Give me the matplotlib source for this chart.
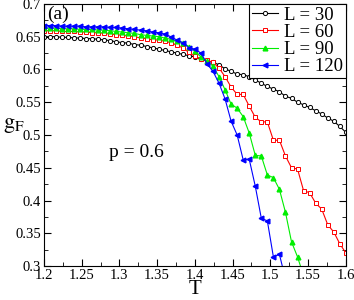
import numpy as np
import matplotlib
matplotlib.use("Agg")
import matplotlib.pyplot as plt
from matplotlib.ticker import MultipleLocator

plt.rcParams['font.family'] = ['Liberation Serif', 'DejaVu Serif']
plt.rcParams['mathtext.fontset'] = 'stix'

# temperature grid shared by all curves (step 0.008)
T = np.round(np.arange(51) * 0.008 + 1.2, 3)

g_L30 = [0.650, 0.650, 0.650, 0.649, 0.649, 0.648, 0.648, 0.647, 0.647, 0.646,
         0.645, 0.644, 0.642, 0.641, 0.640, 0.638, 0.637, 0.635, 0.633, 0.631,
         0.629, 0.627, 0.625, 0.623, 0.621, 0.619, 0.616, 0.613, 0.611, 0.607,
         0.601, 0.597, 0.593, 0.592, 0.589, 0.584, 0.579, 0.574, 0.570, 0.566,
         0.559, 0.556, 0.550, 0.546, 0.542, 0.537, 0.532, 0.526, 0.521, 0.513,
         0.504]
g_L60 = [0.659, 0.659, 0.659, 0.658, 0.658, 0.658, 0.657, 0.657, 0.656, 0.656,
         0.655, 0.654, 0.653, 0.652, 0.651, 0.650, 0.648, 0.647, 0.645, 0.645,
         0.643, 0.641, 0.637, 0.633, 0.626, 0.620, 0.616, 0.614, 0.611, 0.602,
         0.589, 0.573, 0.562, 0.562, 0.544, 0.527, 0.520, 0.520, 0.492, 0.492,
         0.468, 0.450, 0.448, 0.415, 0.412, 0.396, 0.387, 0.363, 0.352, 0.334,
         0.320]
g_L90 = [0.663, 0.663, 0.663, 0.662, 0.662, 0.662, 0.661, 0.661, 0.661, 0.660,
         0.660, 0.659, 0.658, 0.657, 0.656, 0.655, 0.653, 0.652, 0.651, 0.650,
         0.648, 0.646, 0.643, 0.641, 0.635, 0.628, 0.619, 0.613, 0.605, 0.589,
         0.569, 0.547, 0.541, 0.528, 0.503, 0.469, 0.468, 0.439, 0.435, 0.417,
         0.382, 0.337, 0.314, 0.285]
g_L120 = [0.667, 0.667, 0.667, 0.666, 0.666, 0.666, 0.666, 0.665, 0.665, 0.665,
          0.665, 0.664, 0.664, 0.663, 0.662, 0.661, 0.660, 0.659, 0.657, 0.656,
          0.654, 0.650, 0.645, 0.641, 0.633, 0.631, 0.625, 0.609, 0.597, 0.579,
          0.555, 0.521, 0.500, 0.462, 0.463, 0.422, 0.373, 0.369, 0.314, 0.318,
          0.280]

fig = plt.figure(figsize=(3.54, 3.0), dpi=100)
ax = fig.add_axes([0.124, 0.113, 0.853, 0.874])

ax.plot(T[:len(g_L30)], g_L30, '-o', color='black', lw=0.8, ms=3.0,
        mfc='white', mew=0.7, label='L = 30')
ax.plot(T[:len(g_L60)], g_L60, '-s', color='red', lw=0.8, ms=2.8,
        mfc='white', mew=0.7, label='L = 60')
ax.plot(T[:len(g_L90)], g_L90, '-^', color='#00ee00', lw=0.8, ms=3.4,
        label='L = 90')
ax.plot(T[:len(g_L120)], g_L120, '-<', color='blue', lw=0.8, ms=3.4,
        label='L = 120')

ax.set_xlim(1.2, 1.6)
ax.set_ylim(0.3, 0.7)
ax.xaxis.set_major_locator(MultipleLocator(0.05))
ax.xaxis.set_minor_locator(MultipleLocator(0.025))
ax.yaxis.set_major_locator(MultipleLocator(0.05))
ax.yaxis.set_minor_locator(MultipleLocator(0.025))
fmt = plt.FuncFormatter(lambda v, p: ('%.2f' % v).rstrip('0').rstrip('.'))
ax.xaxis.set_major_formatter(fmt)
ax.yaxis.set_major_formatter(fmt)
ax.tick_params(which='both', direction='in', top=True, right=True, labelsize=10.5)
ax.tick_params(which='major', length=5, pad=2)
ax.tick_params(which='minor', length=3)

ax.set_xlabel('T', fontsize=15, labelpad=-1)
ax.set_ylabel(r'$\mathrm{g}_\mathrm{F}$', fontsize=16, rotation=0, labelpad=4)
ax.yaxis.set_label_coords(-0.1, 0.5)

ax.text(0.01, 0.995, '(a)', transform=ax.transAxes, fontsize=14, va='top', ha='left')
ax.text(1.322, 0.474, 'p = 0.6', fontsize=14, ha='center', va='center')

leg = ax.legend(loc='upper right', fontsize=13.5, handlelength=1.4, handletextpad=0.3,
                borderpad=0.15, labelspacing=0.0, borderaxespad=0.0,
                fancybox=False, framealpha=1, edgecolor='black')
leg.get_frame().set_linewidth(0.8)

fig.savefig('out.png', dpi=100)
